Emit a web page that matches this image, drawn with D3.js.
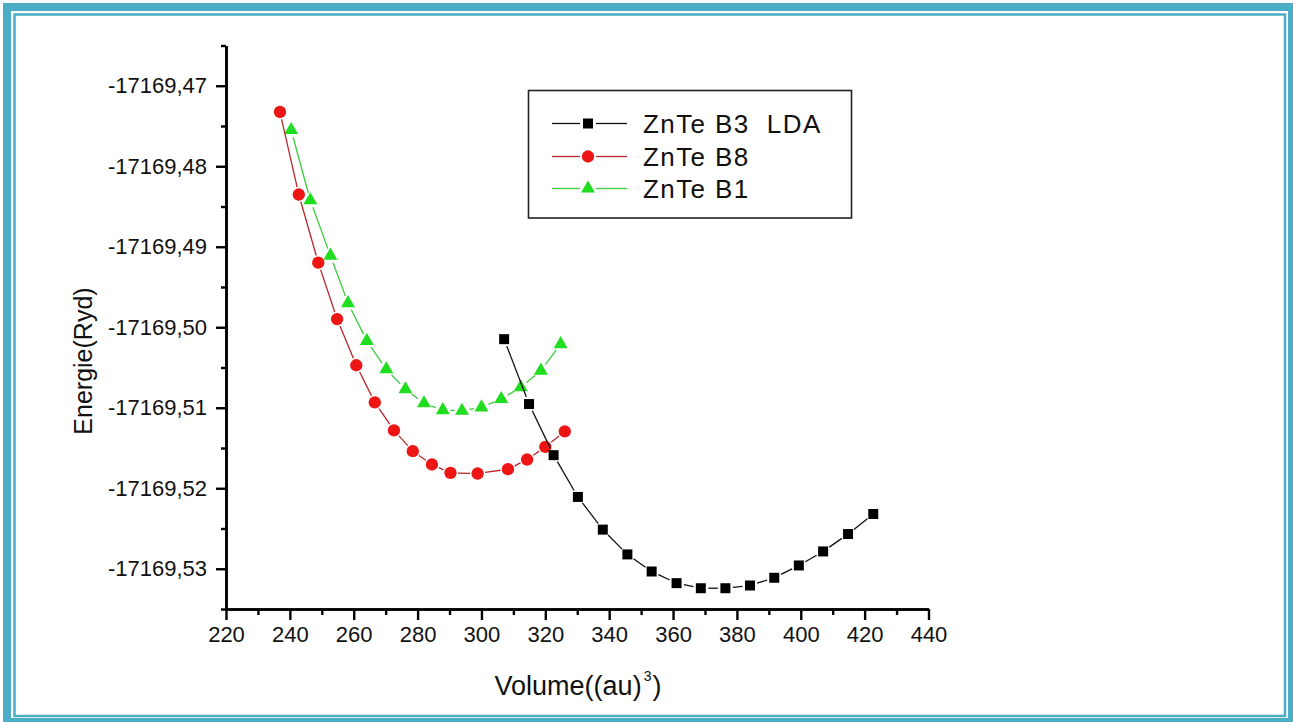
<!DOCTYPE html>
<html>
<head>
<meta charset="utf-8">
<script src="https://cdn.jsdelivr.net/npm/d3@7/dist/d3.min.js"></script>
<style>
  html, body { margin: 0; padding: 0; background: #fff; }
  svg { display: block; }
  text { font-family: "Liberation Sans", Arial, sans-serif; fill: #111; }
</style>
</head>
<body>
<svg id="chart" width="1293" height="722"></svg>
<script>
// ZnTe total energy vs. cell volume for three structures
const seriesNames = ["ZnTe B3  LDA", "ZnTe B8", "ZnTe B1"];

const volumeB3 = [307.1, 314.9, 322.6, 330.2, 338.0, 345.7, 353.3, 361.1, 368.7, 376.4, 384.1, 391.7, 399.4, 407.0, 414.8, 422.7];
const energyB3 = [-17169.50148, -17169.50954, -17169.51589, -17169.52108, -17169.52514, -17169.52822, -17169.53034, -17169.53179,
                  -17169.53242, -17169.53242, -17169.53208, -17169.53112, -17169.52959, -17169.52785, -17169.52569, -17169.52320];

const volumeB8 = [236.9, 242.8, 248.9, 254.8, 260.8, 266.6, 272.6, 278.5, 284.5, 290.3, 298.8, 308.3, 314.3, 320.0, 326.1];
const energyB8 = [-17169.47326, -17169.48351, -17169.49198, -17169.49899, -17169.50472, -17169.50933, -17169.51281, -17169.51539,
                  -17169.51705, -17169.51809, -17169.51817, -17169.51763, -17169.51643, -17169.51486, -17169.51294];

const volumeB1 = [240.4, 246.4, 252.7, 258.2, 264.1, 270.2, 276.2, 282.0, 287.9, 293.9, 300.0, 306.2, 312.3, 318.6, 324.8];
const energyB1 = [-17169.47550, -17169.48422, -17169.49111, -17169.49700, -17169.50169, -17169.50522, -17169.50771, -17169.50945,
                  -17169.51029, -17169.51037, -17169.50995, -17169.50892, -17169.50746, -17169.50539, -17169.50210];

const xTicks = [220, 240, 260, 280, 300, 320, 340, 360, 380, 400, 420, 440];
const xMinorTicks = [230, 250, 270, 290, 310, 330, 350, 370, 390, 410, 430];
const yTicks = [-17169.53, -17169.52, -17169.51, -17169.50, -17169.49, -17169.48, -17169.47];
const yMinorTicks = [-17169.535, -17169.525, -17169.515, -17169.505, -17169.495, -17169.485, -17169.475, -17169.465];

const xTitle = "Volume((au)";
const xTitleSup = "3";
const yTitle = "Energie(Ryd)";

const svg = d3.select("#chart");

// Double frame around the figure
svg.append("rect").attr("x", 7).attr("y", 7).attr("width", 1285).attr("height", 715)
  .attr("fill", "none").attr("stroke", "#4bacc6").attr("stroke-width", 8);
svg.append("rect").attr("x", 14.5).attr("y", 14.5).attr("width", 1270.5).attr("height", 701.5)
  .attr("fill", "none").attr("stroke", "#4bacc6").attr("stroke-width", 2.5);

const x = d3.scaleLinear().domain([220, 440]).range([226, 928.5]);
const y = d3.scaleLinear().domain([-17169.535, -17169.465]).range([609, 45.5]);

const loc = d3.formatLocale({ decimal: ",", thousands: "", grouping: [3], currency: ["", ""], minus: "-" });
const fmtY = loc.format(".2f");

// Axes
const gx = svg.append("g").attr("transform", `translate(0,${y.range()[0]})`);
gx.call(d3.axisBottom(x).tickValues(xTicks).tickSize(11).tickPadding(6).tickSizeOuter(0).tickFormat(d3.format("d")));
const gxm = svg.append("g").attr("transform", `translate(0,${y.range()[0]})`);
gxm.call(d3.axisBottom(x).tickValues(xMinorTicks).tickSize(6).tickSizeOuter(0).tickFormat(""));

const gy = svg.append("g").attr("transform", `translate(${x.range()[0]},0)`);
gy.call(d3.axisLeft(y).tickValues(yTicks).tickSize(10).tickPadding(9).tickSizeOuter(0).tickFormat(fmtY));
const gym = svg.append("g").attr("transform", `translate(${x.range()[0]},0)`);
gym.call(d3.axisLeft(y).tickValues(yMinorTicks).tickSize(5).tickSizeOuter(0).tickFormat(""));

[gx, gxm, gy, gym].forEach(g => {
  g.selectAll("path.domain").attr("stroke", "#000").attr("stroke-width", 2.6);
  g.selectAll(".tick line").attr("stroke", "#000").attr("stroke-width", 2.4);
  g.selectAll(".tick text").attr("font-size", 22).attr("font-family", "Liberation Sans, Arial, sans-serif").attr("fill", "#1a1a22");
});

// Axis titles
const xt = svg.append("text").attr("x", 578).attr("y", 695).attr("text-anchor", "middle").attr("font-size", 27);
xt.append("tspan").text(xTitle);
xt.append("tspan").attr("font-size", 14).attr("dy", -14).attr("dx", 2).text(xTitleSup);
xt.append("tspan").attr("dy", 14).attr("dx", 1).text(")");

svg.append("text").attr("transform", "translate(92,361) rotate(-90)")
  .attr("text-anchor", "middle").attr("font-size", 25).text(yTitle);

// Series definitions
const series = [
  { name: seriesNames[0], vol: volumeB3, en: energyB3, line: "#111", fill: "#000", symbol: d3.symbolSquare, size: 100 },
  { name: seriesNames[1], vol: volumeB8, en: energyB8, line: "#b8282a", fill: "#ee1515", symbol: d3.symbolCircle, size: 120 },
  { name: seriesNames[2], vol: volumeB1, en: energyB1, line: "#3ccc3c", fill: "#20dd20", symbol: d3.symbolTriangle, size: 85 }
];

// Line segments stop short of each marker
const gap = 7.5;
function gappedSegments(pts) {
  const segs = [];
  for (let i = 0; i < pts.length - 1; i++) {
    const [x1, y1] = pts[i], [x2, y2] = pts[i + 1];
    const dx = x2 - x1, dy = y2 - y1, len = Math.hypot(dx, dy);
    if (len <= 2 * gap) continue;
    const ux = dx / len, uy = dy / len;
    segs.push([x1 + ux * gap, y1 + uy * gap, x2 - ux * gap, y2 - uy * gap]);
  }
  return segs;
}

// Draw in order B1, B8, B3 so black sits on top
[series[2], series[1], series[0]].forEach(s => {
  const pts = s.vol.map((v, i) => [x(v), y(s.en[i])]);
  const g = svg.append("g");
  g.selectAll("line").data(gappedSegments(pts)).join("line")
    .attr("x1", d => d[0]).attr("y1", d => d[1]).attr("x2", d => d[2]).attr("y2", d => d[3])
    .attr("stroke", s.line).attr("stroke-width", 1.3);
  g.selectAll("path").data(pts).join("path")
    .attr("transform", d => `translate(${d[0]},${d[1]})`)
    .attr("d", d3.symbol().type(s.symbol).size(s.size)())
    .attr("fill", s.fill);
});

// Legend
const lg = svg.append("g");
lg.append("rect").attr("x", 528.5).attr("y", 90.5).attr("width", 323).attr("height", 127.5)
  .attr("fill", "#fff").attr("stroke", "#222").attr("stroke-width", 1.6);
const rowY = [123.5, 156.5, 188.5];
series.forEach((s, i) => {
  const ry = rowY[i];
  lg.append("line").attr("x1", 552).attr("x2", 580).attr("y1", ry).attr("y2", ry).attr("stroke", s.line).attr("stroke-width", 1.3);
  lg.append("line").attr("x1", 596).attr("x2", 627).attr("y1", ry).attr("y2", ry).attr("stroke", s.line).attr("stroke-width", 1.3);
  lg.append("path").attr("transform", `translate(588,${ry})`)
    .attr("d", d3.symbol().type(s.symbol).size(s.size)()).attr("fill", s.fill);
  lg.append("text").attr("x", 643).attr("y", ry).attr("dy", "0.36em")
    .attr("font-size", 26).attr("letter-spacing", 1.4).attr("xml:space", "preserve")
    .style("white-space", "pre").text(s.name);
});
</script>
</body>
</html>
